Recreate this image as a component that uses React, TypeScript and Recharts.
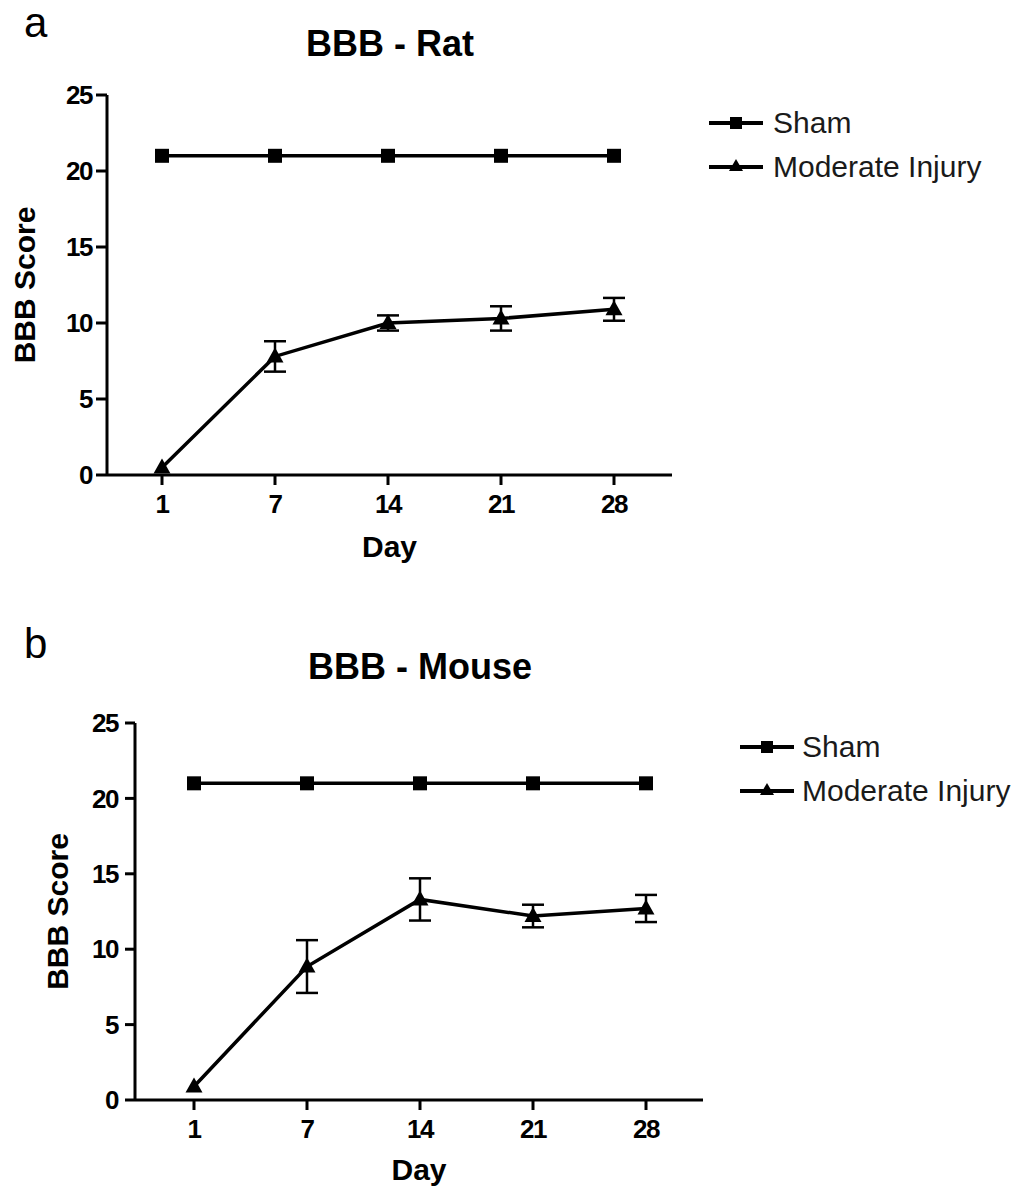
import React from 'react';
import { LineChart, Line, XAxis, YAxis, ErrorBar, Legend } from 'recharts';

const days = ['1', '7', '14', '21', '28'];
const yTicks = [0, 5, 10, 15, 20, 25];

// panel a - rat
const ratSham = [21, 21, 21, 21, 21];
const ratInjury = [0.5, 7.8, 10.0, 10.3, 10.9];
const ratInjuryErr = [null, 1.0, 0.5, 0.8, 0.75];

// panel b - mouse
const mouseSham = [21, 21, 21, 21, 21];
const mouseInjury = [0.9, 8.85, 13.3, 12.2, 12.7];
const mouseInjuryErr = [null, 1.75, 1.4, 0.75, 0.9];

const FONT = '"Liberation Sans", Arial, Helvetica, sans-serif';

function buildRows(sham: number[], injury: number[], err: (number | null)[]) {
  return days.map((day, i) => ({ day, sham: sham[i], injury: injury[i], injuryErr: err[i] }));
}

const SquareDot = (props: any) => {
  const { cx, cy, index } = props;
  if (cx == null || cy == null) return <g key={`sq-${index}`} />;
  return <rect key={`sq-${index}`} x={cx - 7} y={cy - 7} width={14} height={14} fill="#000" />;
};

const TriangleDot = (props: any) => {
  const { cx, cy, index } = props;
  if (cx == null || cy == null) return <g key={`tr-${index}`} />;
  return <path key={`tr-${index}`} d={`M${cx},${cy - 9} L${cx + 8.5},${cy + 6} L${cx - 8.5},${cy + 6} Z`} fill="#000" />;
};

function LegendBox({ gap }: { gap: number }) {
  const row = (label: string, marker: React.ReactNode) => (
    <div style={{ display: 'flex', alignItems: 'center', height: 44 }}>
      <svg width={54} height={20} style={{ display: 'block' }}>
        <line x1={0} y1={10} x2={54} y2={10} stroke="#000" strokeWidth={4} />
        {marker}
      </svg>
      <span style={{ marginLeft: gap }}>{label}</span>
    </div>
  );
  return (
    <div style={{ fontFamily: FONT, fontSize: 30, color: '#1a1a1a', lineHeight: '44px', whiteSpace: 'nowrap' }}>
      {row('Sham', <rect x={21} y={4} width={12} height={12} fill="#000" />)}
      {row('Moderate Injury', <path d="M27,2 L34,14 L20,14 Z" fill="#000" />)}
    </div>
  );
}

const axisStroke = { stroke: '#000', strokeWidth: 3 };
const tickFont = { fill: '#000', fontSize: 26, fontWeight: 700, fontFamily: FONT, letterSpacing: -1.5 };
const labelFont = { fill: '#000', fontSize: 30, fontWeight: 700, fontFamily: FONT };

interface PanelProps {
  rows: any[];
  top: number;
  height: number;
  margin: { top: number; right: number; bottom: number; left: number };
  yWidth: number;
  xHeight: number;
  yTickSize: number;
  yTickMargin: number;
  padLeft: number;
  padRight: number;
  yLabelDx: number;
  xLabelOffset: number;
  legendLeft: number;
  legendTop: number;
  legendGap: number;
}

function Panel(p: PanelProps) {
  return (
    <div style={{ position: 'absolute', left: 0, top: p.top }}>
      <LineChart width={1022} height={p.height} data={p.rows} margin={p.margin}>
        <XAxis
          dataKey="day"
          type="category"
          height={p.xHeight}
          padding={{ left: p.padLeft, right: p.padRight }}
          axisLine={axisStroke}
          tickLine={axisStroke}
          tickSize={10}
          tickMargin={10}
          tick={tickFont}
          label={{ value: 'Day', position: 'insideBottom', offset: p.xLabelOffset, style: labelFont }}
        />
        <YAxis
          type="number"
          domain={[0, 25]}
          ticks={yTicks}
          width={p.yWidth}
          axisLine={axisStroke}
          tickLine={axisStroke}
          tickSize={p.yTickSize}
          tickMargin={p.yTickMargin}
          tick={tickFont}
          label={{ value: 'BBB Score', angle: -90, position: 'center', dx: p.yLabelDx, style: labelFont }}
        />
        <Legend
          layout="vertical"
          align="center"
          verticalAlign="middle"
          wrapperStyle={{ left: p.legendLeft, top: p.legendTop, width: 320 }}
          content={() => <LegendBox gap={p.legendGap} />}
        />
        <Line
          type="linear"
          dataKey="sham"
          name="Sham"
          stroke="#000"
          strokeWidth={3.5}
          dot={SquareDot}
          activeDot={false}
          isAnimationActive={false}
        />
        <Line
          type="linear"
          dataKey="injury"
          name="Moderate Injury"
          stroke="#000"
          strokeWidth={3.5}
          dot={TriangleDot}
          activeDot={false}
          isAnimationActive={false}
        >
          <ErrorBar dataKey="injuryErr" direction="y" width={11} stroke="#000" strokeWidth={2.5} isAnimationActive={false} />
        </Line>
      </LineChart>
    </div>
  );
}

const textDiv = (content: string, left: number, top: number, width: number, size: number, bold: boolean, align: 'left' | 'center') => (
  <div
    style={{
      position: 'absolute',
      left,
      top,
      width,
      fontFamily: FONT,
      fontSize: size,
      fontWeight: bold ? 700 : 400,
      lineHeight: 1,
      textAlign: align,
      color: '#000',
      whiteSpace: 'nowrap',
    }}
  >
    {content}
  </div>
);

export default function App() {
  const ratRows = buildRows(ratSham, ratInjury, ratInjuryErr);
  const mouseRows = buildRows(mouseSham, mouseInjury, mouseInjuryErr);
  return (
    <div style={{ position: 'absolute', left: 0, top: 0, width: 1022, height: 1190, background: '#fff', overflow: 'hidden' }}>
      {textDiv('a', 24, 2, 60, 42, false, 'left')}
      {textDiv('BBB - Rat', 190, 26, 400, 36, true, 'center')}
      <Panel
        rows={ratRows}
        top={0}
        height={600}
        margin={{ top: 95, right: 350, bottom: 35, left: 0 }}
        yWidth={107}
        xHeight={90}
        yTickSize={11}
        yTickMargin={4}
        padLeft={55}
        padRight={58}
        yLabelDx={-29}
        xLabelOffset={8}
        legendLeft={709}
        legendTop={101}
        legendGap={10}
      />
      {textDiv('b', 24, 623, 60, 42, false, 'left')}
      {textDiv('BBB - Mouse', 220, 649, 400, 36, true, 'center')}
      <Panel
        rows={mouseRows}
        top={620}
        height={570}
        margin={{ top: 103, right: 319, bottom: 5, left: 0 }}
        yWidth={135}
        xHeight={85}
        yTickSize={10}
        yTickMargin={7}
        padLeft={59}
        padRight={57}
        yLabelDx={-10}
        xLabelOffset={5}
        legendLeft={740}
        legendTop={105}
        legendGap={8}
      />
    </div>
  );
}
